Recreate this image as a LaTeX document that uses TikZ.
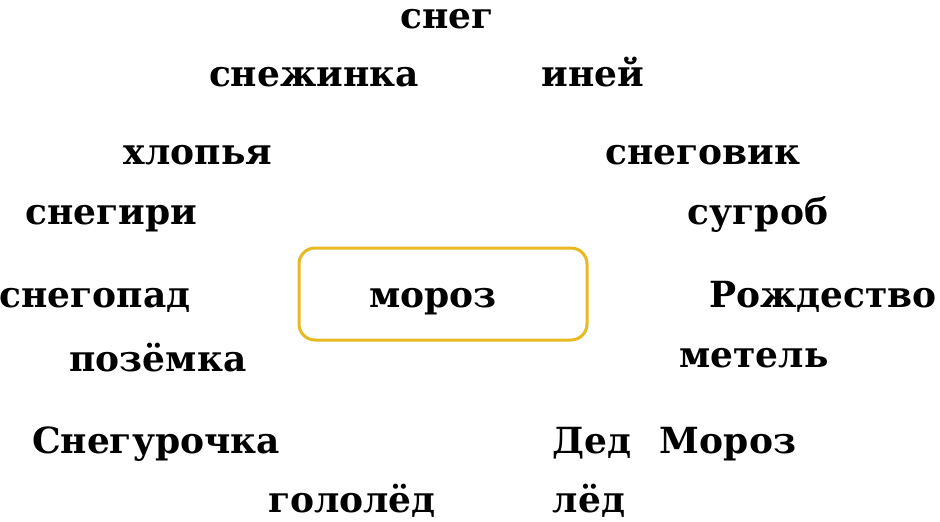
\documentclass[tikz,border=0pt]{standalone}
\usepackage{fontspec}
\setmainfont{DejaVu Serif}
\definecolor{boxgold}{RGB}{232,186,34}
\tikzset{
  word/.style={font=\fontsize{36}{40}\selectfont\bfseries, anchor=base, inner sep=0pt},
  keybox/.style={draw=boxgold, line width=3pt, rounded corners=16pt, fill=white}
}
\begin{document}
\begin{tikzpicture}[x=1pt,y=-1pt]
\useasboundingbox (0,0) rectangle (940,522);
\node[keybox, minimum width=288pt, minimum height=92pt] (box) at (443,294) {};
\node[word] (moroz) at (433,307) {мороз};
\node[word] (sneg) at (447,28) {снег};
\node[word] (snezhinka) at (314,86) {снежинка};
\node[word] (iney) at (593,86) {иней};
\node[word] (khlopya) at (198,164) {хлопья};
\node[word] (snegovik) at (703,164) {снеговик};
\node[word] (snegiri) at (111,224) {снегири};
\node[word] (sugrob) at (758,224) {сугроб};
\node[word] (snegopad) at (95,307) {снегопад};
\node[word] (rozhdestvo) at (823,307) {Рождество};
\node[word] (pozemka) at (158,371) {позёмка};
\node[word] (metel) at (754,367) {метель};
\node[word] (snegurochka) at (156,453) {Снегурочка};
\node[word] (ded) at (592,453) {Дед};
\node[word] (dedmoroz) at (728,453) {Мороз};
\node[word] (gololed) at (352,512) {гололёд};
\node[word] (led) at (589,512) {лёд};
\end{tikzpicture}
\end{document}
